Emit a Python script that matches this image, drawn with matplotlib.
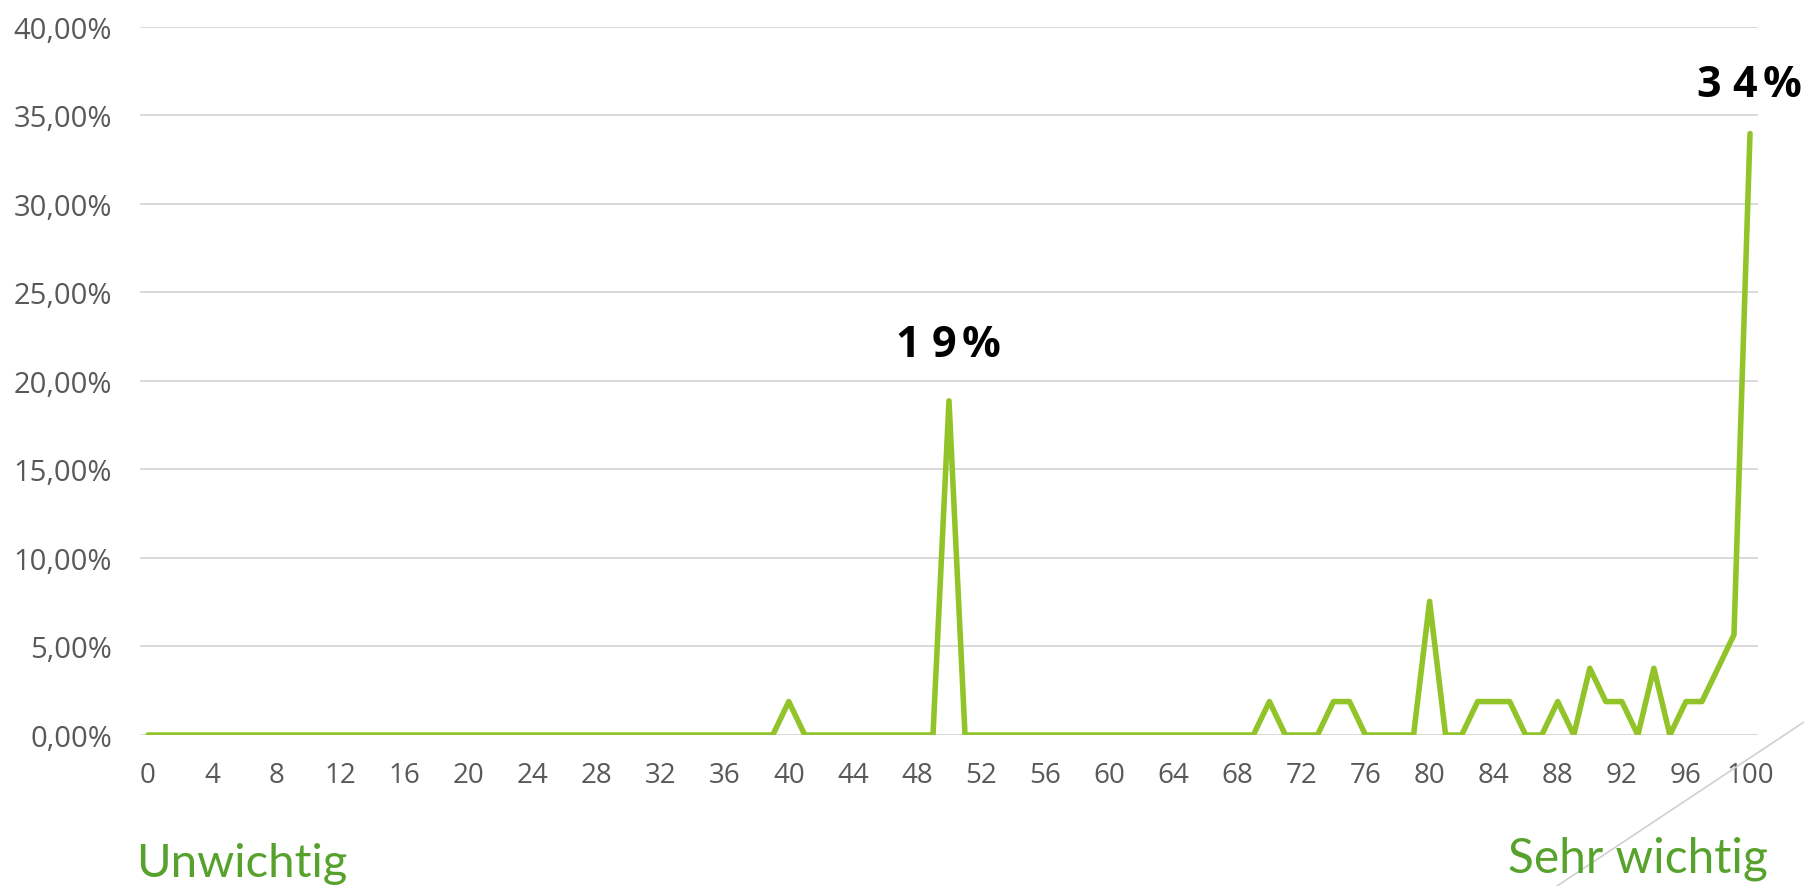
import matplotlib
matplotlib.use("Agg")
import matplotlib.pyplot as plt
from matplotlib.ticker import FixedLocator, FuncFormatter
from matplotlib.lines import Line2D

# Importance scale 0..100 and share of respondents per scale point (%)
scale = list(range(101))
share = [0.0] * 101
share_points = {
    40: 1.89, 50: 18.87, 70: 1.89, 74: 1.89, 75: 1.89, 80: 7.55,
    83: 1.89, 84: 1.89, 85: 1.89, 88: 1.89, 90: 3.77, 91: 1.89,
    92: 1.89, 94: 3.77, 96: 1.89, 97: 1.89, 98: 3.77, 99: 5.66,
    100: 33.96,
}
for k, v in share_points.items():
    share[k] = v

x_ticks = list(range(0, 101, 4))
y_ticks = [0, 5, 10, 15, 20, 25, 30, 35, 40]
labelled = [50, 100]
left_label = "Unwichtig"
right_label = "Sehr wichtig"

LINE = "#92C42A"
GREEN_TXT = "#56A22C"
GRID = "#D9D9D9"
TICK = "#595959"
FONT = ["Open Sans", "DejaVu Sans"]

fig = plt.figure(figsize=(18.04, 8.87), dpi=100)
ax = fig.add_axes([0.0776, 0.1702, 0.8969, 0.7987])

ax.plot(scale, share, color=LINE, lw=4.0, solid_joinstyle="round",
        solid_capstyle="round", zorder=3)

ax.set_xlim(-0.5, 100.5)
ax.set_ylim(0, 40)
ax.yaxis.set_major_locator(FixedLocator(y_ticks))
ax.xaxis.set_major_locator(FixedLocator(x_ticks))
ax.yaxis.set_major_formatter(FuncFormatter(lambda v, p: f"{v:.2f}%".replace(".", ",")))
ax.grid(axis="y", color=GRID, lw=1.4, zorder=1)
ax.set_axisbelow(True)
for s in ax.spines.values():
    s.set_visible(False)
ax.tick_params(axis="x", length=0, colors=TICK, labelsize=20, pad=19)
ax.tick_params(axis="y", length=0, colors=TICK, labelsize=21, pad=20)
for lab in ax.get_xticklabels() + ax.get_yticklabels():
    lab.set_family(FONT)

# Peak value labels, characters spaced out
label_rise = {50: 40.5, 100: 35}
for k in labelled:
    txt = f"{share[k]:.0f}%"
    offsets = []
    pos = 0.0
    for i, ch in enumerate(txt):
        if i > 0:
            pos += 25.5 + (1.5 if ch == "%" else 0)
        offsets.append(pos)
    mid = offsets[len(offsets) // 2]
    for ch, off in zip(txt, offsets):
        ax.annotate(ch, (k, share[k]),
                    xytext=(off - mid - 4, label_rise[k]),
                    textcoords="offset points", ha="center", va="center",
                    fontsize=31, fontweight="bold", color="black",
                    family=FONT, annotation_clip=False)

fig.text(136 / 1804, 10 / 887, left_label, color=GREEN_TXT, fontsize=34,
         family=["Lato", "DejaVu Sans"], ha="left", va="baseline")
fig.text(1768 / 1804, 14 / 887, right_label, color=GREEN_TXT, fontsize=34.5,
         family=["Lato", "DejaVu Sans"], ha="right", va="baseline")

# decorative diagonal stroke in the lower-right corner
fig.add_artist(Line2D([1557 / 1804, 1.0], [0.0, 1 - 723 / 887],
                      transform=fig.transFigure, color="#D0D0D0", lw=1.2))

fig.savefig("out.png", dpi=100)
